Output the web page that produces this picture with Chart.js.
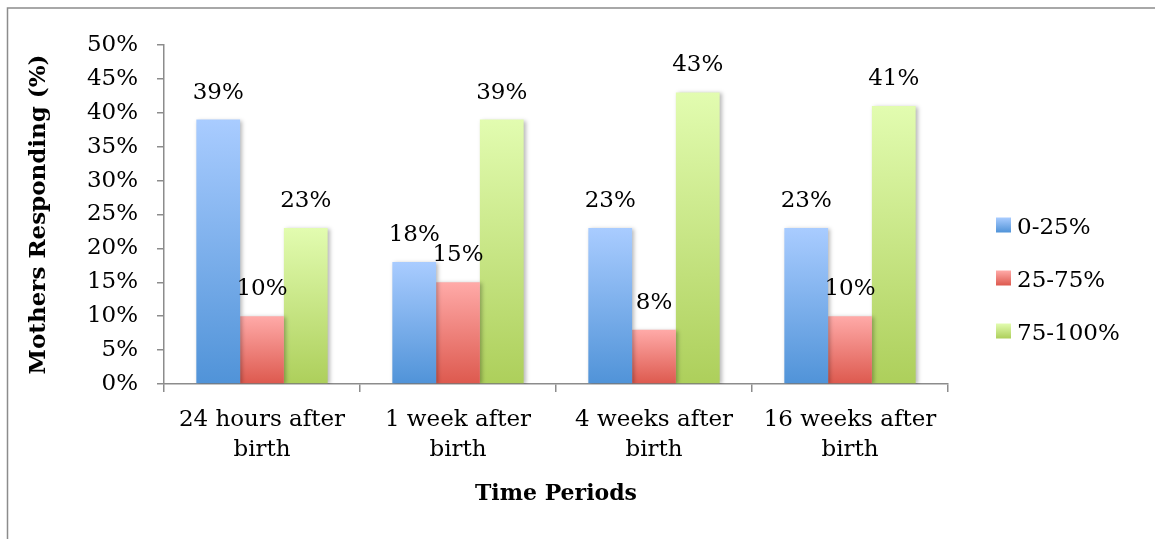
<!DOCTYPE html>
<html>
<head>
<meta charset="utf-8">
<script src="https://cdn.jsdelivr.net/npm/chart.js@4/dist/chart.umd.min.js"></script>
<style>
  html, body { margin: 0; padding: 0; background: #ffffff; }
  #wrap { position: relative; width: 1155px; height: 539px; }
</style>
</head>
<body>
<div id="wrap"><canvas id="chart" width="1155" height="539"></canvas></div>
<script>
// Categories (two-line labels) and the three response groups
const categories = [
  ['24 hours after', 'birth'],
  ['1 week after', 'birth'],
  ['4 weeks after', 'birth'],
  ['16 weeks after', 'birth']
];
const seriesNames = ['0-25%', '25-75%', '75-100%'];
const low = [39, 18, 23, 23];
const mid = [10, 15, 8, 10];
const high = [23, 39, 43, 41];
const yTicks = [0, 5, 10, 15, 20, 25, 30, 35, 40, 45, 50];

// Gradient stops per series (top, bottom)
const gradStops = [
  ['#a9ccff', '#5093d8'],
  ['#ffaaa8', '#dd594e'],
  ['#e2fcb0', '#adcf5b']
];

const FONT = '"DejaVu Serif", "Liberation Serif", serif';
const TXT = 23;

function barGradient(seriesIdx) {
  return function (context) {
    const chart = context.chart;
    const y = chart.scales && chart.scales.y;
    if (!chart.chartArea || !y || context.type !== 'data') return gradStops[seriesIdx][1];
    const top = y.getPixelForValue(context.raw);
    const bottom = y.getPixelForValue(0);
    const g = chart.ctx.createLinearGradient(0, top, 0, bottom);
    g.addColorStop(0, gradStops[seriesIdx][0]);
    g.addColorStop(1, gradStops[seriesIdx][1]);
    return g;
  };
}

// Outer frame lines (top and left edge of the chart box)
const framePlugin = {
  id: 'frame',
  beforeDraw(chart) {
    const ctx = chart.ctx;
    ctx.save();
    ctx.strokeStyle = '#8c8c8c';
    ctx.lineWidth = 1.5;
    ctx.beginPath();
    ctx.moveTo(1155, 8);
    ctx.lineTo(7.5, 8);
    ctx.lineTo(7.5, 539);
    ctx.stroke();
    ctx.restore();
  }
};

// Soft drop shadow behind the bars
const shadowPlugin = {
  id: 'barShadow',
  beforeDatasetDraw(chart) {
    const ctx = chart.ctx;
    ctx.save();
    ctx.shadowColor = 'rgba(0,0,0,0.28)';
    ctx.shadowBlur = 4;
    ctx.shadowOffsetX = 2;
    ctx.shadowOffsetY = 1;
  },
  afterDatasetDraw(chart) {
    chart.ctx.restore();
  }
};

// Value labels above each bar
const valueLabels = {
  id: 'valueLabels',
  afterDatasetsDraw(chart) {
    const ctx = chart.ctx;
    ctx.save();
    ctx.font = TXT + 'px ' + FONT;
    ctx.fillStyle = '#000000';
    ctx.textAlign = 'center';
    ctx.textBaseline = 'middle';
    chart.data.datasets.forEach((ds, i) => {
      const meta = chart.getDatasetMeta(i);
      meta.data.forEach((bar, j) => {
        ctx.fillText(ds.data[j] + '%', bar.x, bar.y - 27);
      });
    });
    ctx.restore();
  }
};

// Legend on the right with gradient swatches
const sideLegend = {
  id: 'sideLegend',
  afterDraw(chart) {
    const ctx = chart.ctx;
    ctx.save();
    ctx.font = TXT + 'px ' + FONT;
    ctx.textAlign = 'left';
    ctx.textBaseline = 'middle';
    const x0 = 996, yStart = 225, step = 53, box = 15;
    seriesNames.forEach((name, i) => {
      const cy = yStart + i * step;
      const g = ctx.createLinearGradient(0, cy - box / 2, 0, cy + box / 2);
      g.addColorStop(0, gradStops[i][0]);
      g.addColorStop(1, gradStops[i][1]);
      ctx.fillStyle = g;
      ctx.fillRect(x0, cy - box / 2, box, box);
      ctx.fillStyle = '#000000';
      ctx.fillText(name, x0 + 21, cy + 3);
    });
    ctx.restore();
  }
};

const chart = new Chart(document.getElementById('chart'), {
  type: 'bar',
  data: {
    labels: categories,
    datasets: [
      { label: seriesNames[0], data: low, backgroundColor: barGradient(0) },
      { label: seriesNames[1], data: mid, backgroundColor: barGradient(1) },
      { label: seriesNames[2], data: high, backgroundColor: barGradient(2) }
    ]
  },
  options: {
    responsive: false,
    animation: false,
    events: [],
    layout: { padding: { left: 16, right: 207, top: 45, bottom: 20 } },
    datasets: { bar: { barPercentage: 1, categoryPercentage: 0.67, borderWidth: 0 } },
    plugins: { legend: { display: false }, tooltip: { enabled: false } },
    scales: {
      x: {
        grid: { display: true, drawOnChartArea: false, offset: true, tickLength: 8, color: '#8c8c8c', lineWidth: 1.5 },
        border: { display: true, color: '#8c8c8c', width: 1.5 },
        ticks: { color: '#000000', font: { family: FONT, size: TXT, lineHeight: 1.3 }, padding: 13, maxRotation: 0, autoSkip: false },
        title: { display: true, text: 'Time Periods', color: '#000000', font: { family: FONT, size: 22, weight: 'bold' }, padding: { top: 0, bottom: 12 } },
        afterFit(scale) { scale.height = 539 - 384 - 20; }
      },
      y: {
        min: 0, max: 50,
        afterBuildTicks(scale) { scale.ticks = yTicks.map(v => ({ value: v })); },
        grid: { display: true, drawOnChartArea: false, tickLength: 7, color: '#8c8c8c', lineWidth: 1.5 },
        border: { display: true, color: '#8c8c8c', width: 1.5 },
        ticks: { color: '#000000', font: { family: FONT, size: TXT }, padding: 19, callback: v => v + '%' },
        title: { display: true, text: 'Mothers Responding (%)', color: '#000000', font: { family: FONT, size: 23, weight: 'bold' }, padding: { top: 9, bottom: 0 } },
        afterFit(scale) { scale.width = 164 - 16; }
      }
    }
  },
  plugins: [framePlugin, shadowPlugin, valueLabels, sideLegend]
});
</script>
</body>
</html>
